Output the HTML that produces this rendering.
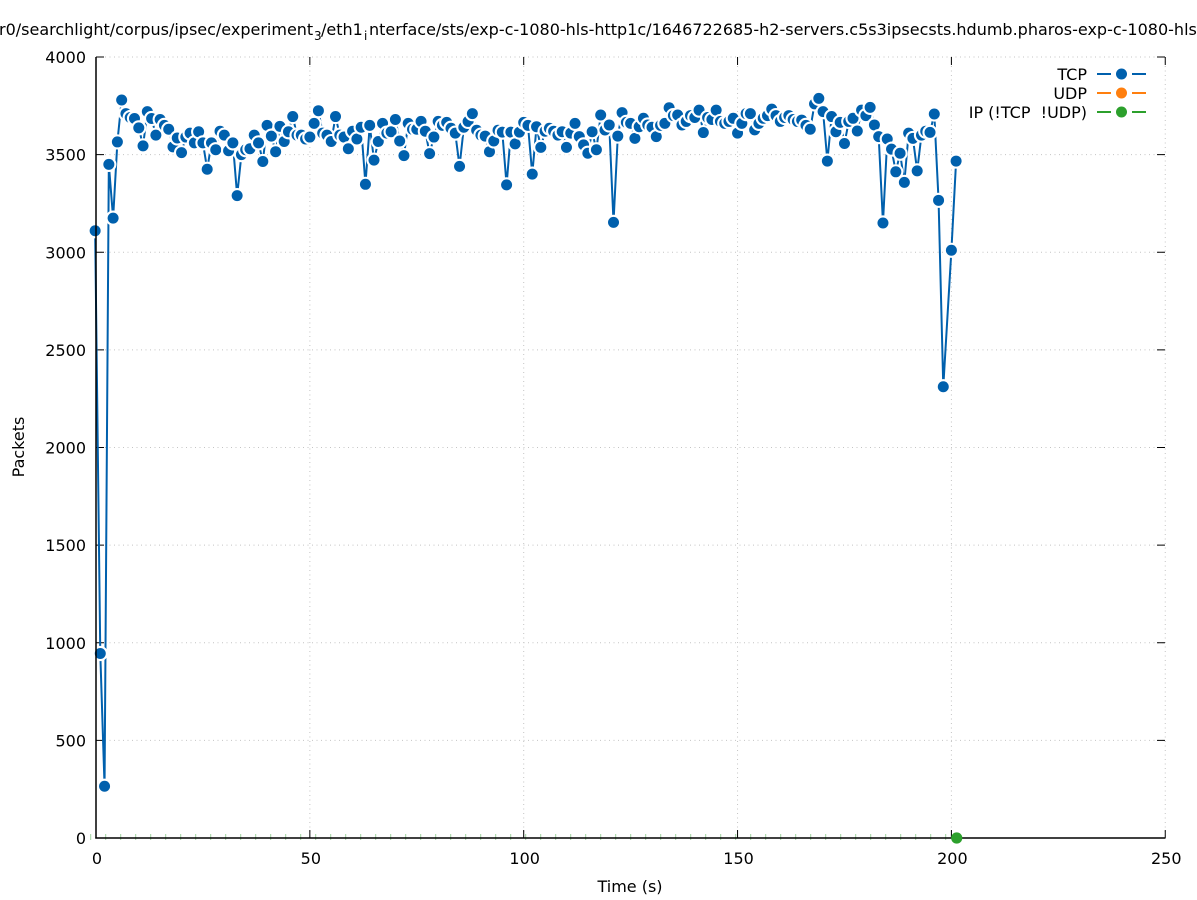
<!DOCTYPE html>
<html><head><meta charset="utf-8"><style>
html,body{margin:0;padding:0;background:#fff;}
svg{display:block;}
text{font-family:"DejaVu Sans","Liberation Sans",sans-serif;fill:#000;}
</style></head><body>
<svg id="c" width="1197" height="900" viewBox="0 0 1197 900" xmlns="http://www.w3.org/2000/svg">
<rect width="1197" height="900" fill="#fff"/>
<g id="grid" stroke="#c4c4c4" stroke-width="1" stroke-dasharray="1,3.5"></g>
<g id="ticks" stroke="#000" stroke-width="1"></g>
<g id="labels" font-size="16"></g>
<text x="-1" y="35" font-size="16">r0/searchlight/corpus/ipsec/experiment</text>
<text x="314" y="40" font-size="12">3</text>
<text x="321" y="35" font-size="16">/eth1</text>
<text x="364" y="40" font-size="12">i</text>
<text x="369" y="35" font-size="16">nterface/sts/exp-c-1080-hls-http1c/1646722685-h2-servers.c5s3ipsecsts.hdumb.pharos-exp-c-1080-hls</text>
<text x="630" y="892" font-size="16" text-anchor="middle">Time (s)</text>
<text transform="translate(24,447) rotate(-90)" font-size="16" text-anchor="middle">Packets</text>
<g id="green"></g>
<g id="series"></g>
<line x1="96" y1="57" x2="96" y2="838.5" stroke="#000" stroke-width="1.5"/>
<line x1="95.3" y1="838" x2="1165.5" y2="838" stroke="#000" stroke-width="1.5"/>
<circle cx="956.7" cy="838" r="5.6" fill="#2ca02c"/>
<g font-size="16" text-anchor="end">
<text x="1087" y="80">TCP</text>
<text x="1087" y="99">UDP</text>
<text x="1087" y="118">IP (!TCP&#160; !UDP)</text>
</g>
<g stroke-width="2">
<line x1="1097" y1="74" x2="1111" y2="74" stroke="#0060ad"/>
<line x1="1132" y1="74" x2="1146" y2="74" stroke="#0060ad"/>
<circle cx="1121.5" cy="74" r="5.5" fill="#0060ad" stroke="none"/>
<line x1="1097" y1="93" x2="1111" y2="93" stroke="#ff7f0e"/>
<line x1="1132" y1="93" x2="1146" y2="93" stroke="#ff7f0e"/>
<circle cx="1121.5" cy="93" r="5.5" fill="#ff7f0e" stroke="none"/>
<line x1="1097" y1="112" x2="1111" y2="112" stroke="#2ca02c"/>
<line x1="1132" y1="112" x2="1146" y2="112" stroke="#2ca02c"/>
<circle cx="1121.5" cy="112" r="5.5" fill="#2ca02c" stroke="none"/>
</g>
</svg>
<script>
(function(){
var NS="http://www.w3.org/2000/svg";
function el(tag,attrs,parent,txt){var e=document.createElementNS(NS,tag);for(var k in attrs)e.setAttribute(k,attrs[k]);if(txt!==undefined)e.textContent=txt;parent.appendChild(e);return e;}
var X=function(x){return 96+x*4.277;};
var Y=function(v){return 838-v*0.19525;};
var grid=document.getElementById('grid'),ticks=document.getElementById('ticks'),labels=document.getElementById('labels');
for(var v=0;v<=4000;v+=500){
  var y=Y(v);
  if(v>0) el('line',{x1:96,y1:y,x2:1165,y2:y},grid);
  el('line',{x1:96,y1:y,x2:104,y2:y},ticks);
  el('line',{x1:1157,y1:y,x2:1165,y2:y},ticks);
  el('text',{x:86,y:y+6,'text-anchor':'end'},labels,String(v));
}
for(var x=0;x<=250;x+=50){
  var px=X(x);
  if(x>0) el('line',{x1:px,y1:57,x2:px,y2:838},grid);
  el('line',{x1:px,y1:838,x2:px,y2:830},ticks);
  el('line',{x1:px,y1:57,x2:px,y2:65},ticks);
  el('text',{x:px+1,y:864,'text-anchor':'middle'},labels,String(x));
}
var g=document.getElementById('green');
for(var gx=90.7;gx<950;gx+=15){
  el('line',{x1:gx,y1:834,x2:gx,y2:840,stroke:'#9ed49e','stroke-width':1},g);
}
var vals=[3110,945,265,3450,3175,3565,3780,3710,3690,3685,3637,3545,3720,3685,3600,3680,3650,3630,3540,3585,
3510,3590,3610,3560,3617,3560,3425,3560,3525,3620,3600,3520,3560,3290,3500,3525,3530,3600,3560,3465,
3650,3595,3515,3645,3567,3617,3695,3600,3600,3580,3590,3660,3725,3610,3600,3567,3695,3600,3590,3530,
3620,3580,3640,3348,3650,3472,3567,3660,3610,3617,3680,3570,3495,3660,3630,3630,3670,3620,3505,3590,
3670,3650,3665,3635,3610,3440,3640,3670,3710,3625,3600,3595,3515,3570,3625,3615,3345,3615,3555,3615,
3665,3650,3400,3643,3537,3620,3635,3620,3600,3617,3537,3610,3660,3592,3550,3507,3617,3525,3703,3626,
3652,3153,3595,3715,3665,3660,3583,3643,3686,3652,3640,3592,3650,3660,3740,3700,3703,3652,3670,3700,
3690,3728,3613,3690,3680,3728,3670,3660,3670,3686,3610,3660,3710,3710,3627,3660,3686,3700,3733,3700,
3670,3690,3700,3680,3670,3677,3650,3630,3760,3788,3720,3467,3695,3617,3665,3557,3670,3686,3621,3728,
3700,3742,3652,3592,3150,3580,3528,3412,3507,3358,3610,3583,3417,3600,3620,3614,3708,3266,2311];
var pts=[];
for(var i=0;i<vals.length;i++){pts.push([i===0?-0.2:i,vals[i]]);}
pts[198][0]=198.1;
pts.push([200.0,3010]);pts.push([201.1,3467]);
var s=document.getElementById('series');
var d='';
for(var j=0;j<pts.length;j++){d+=(j?'L':'M')+X(pts[j][0]).toFixed(2)+' '+Y(pts[j][1]).toFixed(2);}
el('path',{d:d,fill:'none',stroke:'#0060ad','stroke-width':2,'stroke-linejoin':'round'},s);
for(var k=0;k<pts.length;k++){
  var cx=X(pts[k][0]),cy=Y(pts[k][1]);
  el('circle',{cx:cx,cy:cy,r:7.6,fill:'#fff'},s);
  el('circle',{cx:cx,cy:cy,r:5.5,fill:'#0060ad'},s);
}
})();
</script>
</body></html>
